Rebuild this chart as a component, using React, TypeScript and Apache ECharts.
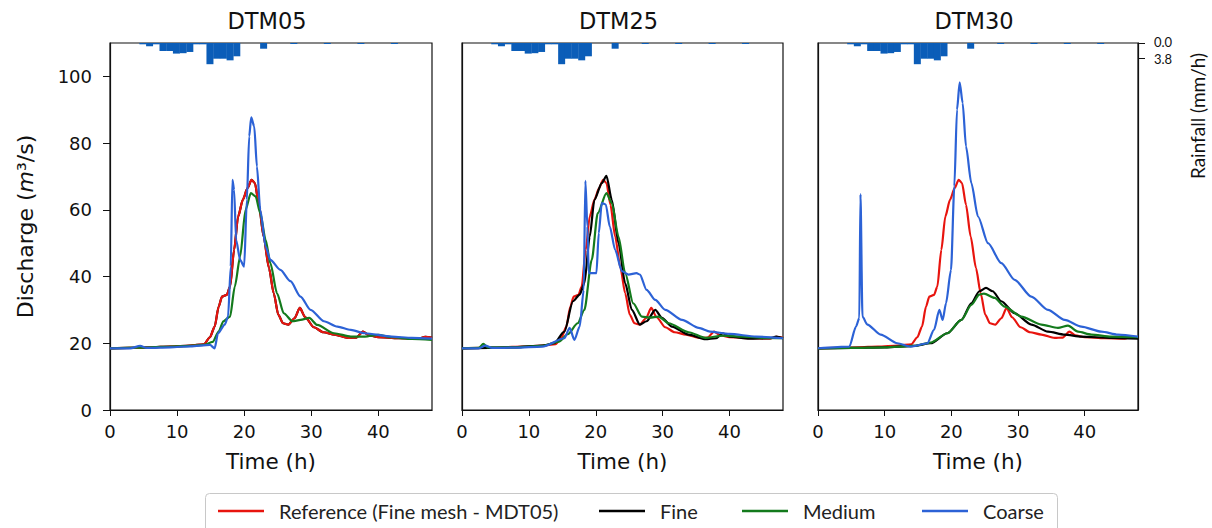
import React, { useEffect, useRef } from "react";
import * as echarts from "echarts";

type P = [number, number];

const panelTitles = ["DTM05", "DTM25", "DTM30"];
const seriesNames = ["Reference (Fine mesh - MDT05)", "Fine", "Medium", "Coarse"];
const xTicks = [0, 10, 20, 30, 40];
const yTicks = [0, 20, 40, 60, 80, 100];
const rainTicks = [0, 3.8];

const rainTimes = [4.9, 5.9, 6.9, 7.9, 8.9, 9.9, 10.9, 11.9, 12.9, 13.9, 14.9, 15.9, 16.9, 17.9, 18.9, 22.9, 27.4, 32.4, 37.4, 42.4];
const rainValues = [0.32, 0.8, 0.32, 1.96, 1.96, 2.6, 2.5, 2.2, 0.32, 0.32, 5.2, 3.85, 3.85, 4.25, 3.26, 1.4, 0.25, 0.25, 0.25, 0.25];

const reference: P[] = [[0,18.5],[3,18.6],[6,18.8],[9,19.0],[12,19.3],[14,19.7],[14.9,21.8],[15.6,25],[16.2,31],[16.7,34],[17.4,34.5],[17.9,37],[18.5,48],[19.1,58],[19.8,63],[20.5,66.5],[21.1,69],[21.6,68],[22.2,61.5],[22.9,52],[23.7,42.5],[24.4,35],[25.1,28.5],[25.8,26],[26.6,25.6],[27.5,27.5],[28.3,30.6],[29.1,27.8],[30.4,24.8],[31.8,23.3],[33.5,22.6],[35.5,21.6],[36.7,21.7],[37.7,23.5],[38.6,22.4],[40,21.8],[43,21.5],[46,21.4],[47,21.9],[48,21.6]];

const dtm05Medium: P[] = [[0,18.5],[4,18.7],[8,18.9],[12,19.2],[14,19.5],[15.3,20.4],[16.2,23.5],[16.9,26.6],[17.9,28],[18.6,37],[19.4,46],[20.2,60],[21.0,65],[21.7,64],[22.4,59],[23.2,51],[23.9,44],[24.9,35],[25.9,29],[27.2,26.6],[28.4,27],[29.7,27.6],[30.9,25.5],[33.4,23],[35.9,22],[38,22],[40,22.5],[42,21.8],[45,21.3],[48,21]];
const dtm05Coarse: P[] = [[0,18.5],[3,18.5],[4.5,19.2],[5.5,18.6],[9,18.8],[12,19.1],[14.9,19.5],[15.6,18.5],[16.1,23],[17.1,25.6],[17.6,28],[18.0,43],[18.25,69],[18.5,66],[18.8,51],[19.4,45],[20.0,43],[20.4,63],[20.75,82],[21.05,87.7],[21.5,85],[21.9,73],[22.4,60],[23.2,49],[23.9,45],[25.4,42],[26.9,38.6],[28.4,34],[29.9,30],[31.9,26.6],[33.9,25],[35.9,24],[38,23],[42,22],[45,21.6],[48,21.4]];

const dtm25Fine: P[] = [[0,18.5],[4,18.6],[8,18.8],[12,19.3],[13.8,20],[15.3,23.5],[16.6,32.6],[17.6,34.6],[18.3,38],[19.1,52],[19.8,63],[20.9,68],[21.6,70.2],[22.4,63],[23.4,50],[24.4,38],[25.4,30],[26.6,25.6],[27.6,26.6],[28.9,30],[29.9,27.6],[31.4,25],[33.9,22.6],[36.4,21.2],[38,21.5],[39,23],[40,22],[43,21.4],[46,21.5],[47,22],[48,21.5]];
const dtm25Medium: P[] = [[0,18.5],[2.5,18.6],[3.2,19.8],[3.8,18.8],[8,18.8],[12,19.2],[14.5,20.5],[15.8,22.7],[17.3,26],[18.3,30],[19.4,45],[20.3,59],[21.6,65],[22.4,62],[23.4,52],[24.4,41],[25.6,32],[26.9,28],[28.1,27.7],[29.4,28],[30.9,26],[33.9,23.3],[36.4,21.6],[39,22.3],[42,22],[45,21.6],[48,21.5]];
const dtm25Coarse: P[] = [[0,18.5],[2.5,18.5],[3.5,19.3],[4.5,18.6],[8,18.7],[12,19],[15.3,21.5],[16.1,24.6],[16.8,21],[17.6,25],[18.2,36],[18.45,68.7],[18.75,55],[18.95,41],[20.1,41],[20.45,53],[20.9,62],[21.5,61.6],[22.1,55],[22.9,48],[23.9,41.6],[24.9,40.6],[26.1,41],[26.6,40.6],[27.6,36],[28.9,33],[30.4,30],[32.9,27],[35.4,24.6],[37.1,23.5],[40,22.8],[44,22],[48,21.5]];

const dtm30Fine: P[] = [[0,18.5],[5,18.6],[10,18.8],[14.4,19.2],[16.9,20],[19.4,23],[21.5,27],[23.0,32],[24.2,35.6],[25.2,36.6],[26.2,35.6],[27.5,32.6],[29.5,29],[32.0,25.6],[34.5,23.5],[37.0,22.6],[39.5,22],[44,21.6],[48,21.4]];
const dtm30Medium: P[] = [[0,18.5],[5,18.6],[10,18.8],[14.4,19.2],[16.9,20.2],[19.4,23],[21.5,27],[23.0,31.5],[24.2,34.6],[24.9,34.9],[26.5,33.6],[28.0,31],[30.5,28],[33.5,25.6],[36.0,24.6],[37.5,25.3],[39.0,23.5],[41,22.6],[44,22],[48,21.8]];
const dtm30Coarse: P[] = [[0,18.5],[4.7,19],[5.7,25],[6.2,27.6],[6.37,64.7],[6.67,28],[7.4,25.6],[9.4,22.6],[11.9,20],[13.9,19],[16.4,20],[17.4,24],[18.2,30],[18.7,27],[19.2,32],[19.95,42],[20.45,67],[20.85,90],[21.25,98.2],[21.7,92],[22.2,79],[23.0,68],[24.0,58],[25.5,50],[27.5,44],[29.5,39],[32.0,34],[34.5,30],[37.0,27],[39.5,25],[42.5,23.5],[45,22.6],[48,22]];

const panelFine = [reference, dtm25Fine, dtm30Fine];
const panelMedium = [dtm05Medium, dtm25Medium, dtm30Medium];
const panelCoarse = [dtm05Coarse, dtm25Coarse, dtm30Coarse];

const COLORS = ["#e8140e", "#000000", "#137a1c", "#2c62d6"];
const RAIN_COLOR = "#0b5db8";
const FONT = "DejaVu Sans";
const LFONT = "Lato";

const gridLefts = [110, 462, 818];
const gridWidths = [322, 321, 320];
const legendLefts = [213, 594, 737, 917];

export default function App() {
  const ref = useRef<HTMLDivElement>(null);
  useEffect(() => {
    if (!ref.current) return;
    const chart = echarts.init(ref.current, null, { renderer: "svg" });
    const rainData = rainTimes.map((t, i) => [t, rainValues[i]]);

    const grid = gridLefts.map((l, i) => ({
      left: l, top: 43, width: gridWidths[i], height: 367,
      show: true, borderColor: "#111", borderWidth: 1.2, backgroundColor: "transparent",
    }));

    const xAxis = gridLefts.map((_, i) => ({
      type: "value", gridIndex: i, min: 0, max: 48,
      axisLine: { show: true, lineStyle: { color: "#111", width: 1.2 } },
      axisTick: { show: true, length: 6, customValues: xTicks, lineStyle: { color: "#111" } },
      axisLabel: { customValues: xTicks, fontSize: 18, color: "#111", margin: 12, fontFamily: FONT },
      splitLine: { show: false },
      name: "Time (h)", nameLocation: "middle", nameGap: 40,
      nameTextStyle: { fontSize: 21.5, color: "#111", fontFamily: FONT },
    }));

    const yAxisQ = gridLefts.map((_, i) => ({
      type: "value", gridIndex: i, min: 0, max: 110,
      axisLine: { show: true, lineStyle: { color: "#111", width: 1.2 } },
      axisTick: { show: i === 0, length: 7, customValues: yTicks, lineStyle: { color: "#111" } },
      axisLabel: { show: i === 0, customValues: yTicks, fontSize: 18, color: "#111", margin: 18, fontFamily: FONT },
      splitLine: { show: false },
      name: i === 0 ? "Discharge ({i|m}³/s)" : "",
      nameLocation: "middle", nameGap: 74,
      nameTextStyle: { fontSize: 22, color: "#111", fontFamily: FONT, rich: { i: { fontSize: 22, fontStyle: "italic", fontFamily: FONT, color: "#111" } } },
    }));

    const yAxisR = gridLefts.map((_, i) => ({
      type: "value", gridIndex: i, min: 0, max: 90, inverse: true, position: "right",
      show: i === 2,
      axisLine: { show: true, lineStyle: { color: "#111", width: 1.2 } },
      axisTick: { show: true, length: 7, customValues: rainTicks, lineStyle: { color: "#111" } },
      axisLabel: {
        customValues: rainTicks, margin: 16,
        formatter: (v: number) => (v === 0 ? "{a|" : "{b|") + v.toFixed(1) + "}",
        rich: {
          a: { fontSize: 13, lineHeight: 13, fontFamily: LFONT, color: "#111", padding: [0, 0, 2, 0] },
          b: { fontSize: 13, lineHeight: 13, fontFamily: LFONT, color: "#111", padding: [2, 0, 0, 0] },
        },
      },
      splitLine: { show: false },
    }));

    const series: any[] = [];
    gridLefts.forEach((_, i) => {
      series.push({
        type: "bar", name: "Rainfall", xAxisIndex: i, yAxisIndex: 3 + i,
        data: rainData, barWidth: 7, itemStyle: { color: RAIN_COLOR }, z: 1,
      });
      const lines: [string, P[], string][] = [
        [seriesNames[0], reference, COLORS[0]],
        [seriesNames[1], panelFine[i], COLORS[1]],
        [seriesNames[2], panelMedium[i], COLORS[2]],
        [seriesNames[3], panelCoarse[i], COLORS[3]],
      ];
      const order = i === 0 ? [1, 0, 2, 3] : [0, 1, 2, 3];
      order.forEach((k) => {
        const [name, data, color] = lines[k];
        series.push({
          type: "line", name, xAxisIndex: i, yAxisIndex: i, data,
          showSymbol: false, smooth: 0.25, smoothMonotone: "x",
          lineStyle: { color, width: 2.2 }, itemStyle: { color }, z: 2,
        });
      });
    });

    const legend = seriesNames.map((n, k) => ({
      data: [n], left: legendLefts[k], top: 496, icon: "rect",
      itemWidth: 46, itemHeight: 2.5, selectedMode: false,
      textStyle: { fontSize: 20, fontFamily: LFONT, color: "#222", padding: [0, 0, 0, 10] },
    }));

    chart.setOption({
      animation: false,
      backgroundColor: "#fff",
      title: panelTitles.map((t, i) => ({
        text: t, left: gridLefts[i] + gridWidths[i] / 2 - 9, top: 4, textAlign: "center",
        textStyle: { fontSize: 22.5, fontWeight: "normal", color: "#111", fontFamily: FONT },
      })),
      grid, xAxis, yAxis: [...yAxisQ, ...yAxisR], series, legend,
      graphic: [
        { type: "rect", left: 205, top: 493, z: 0, shape: { width: 852, height: 50, r: 4 }, style: { fill: "#fff", stroke: "#c8c8c8", lineWidth: 1 } },
        { type: "text", x: 1197, y: 116, rotation: Math.PI / 2, style: { text: "Rainfall (mm/h)", fontSize: 19, fontFamily: LFONT, fill: "#111", align: "center", verticalAlign: "middle" } },
      ],
    });
    return () => chart.dispose();
  }, []);
  return <div ref={ref} style={{ position: "fixed", left: 0, top: 0, width: 1212, height: 528 }} />;
}
